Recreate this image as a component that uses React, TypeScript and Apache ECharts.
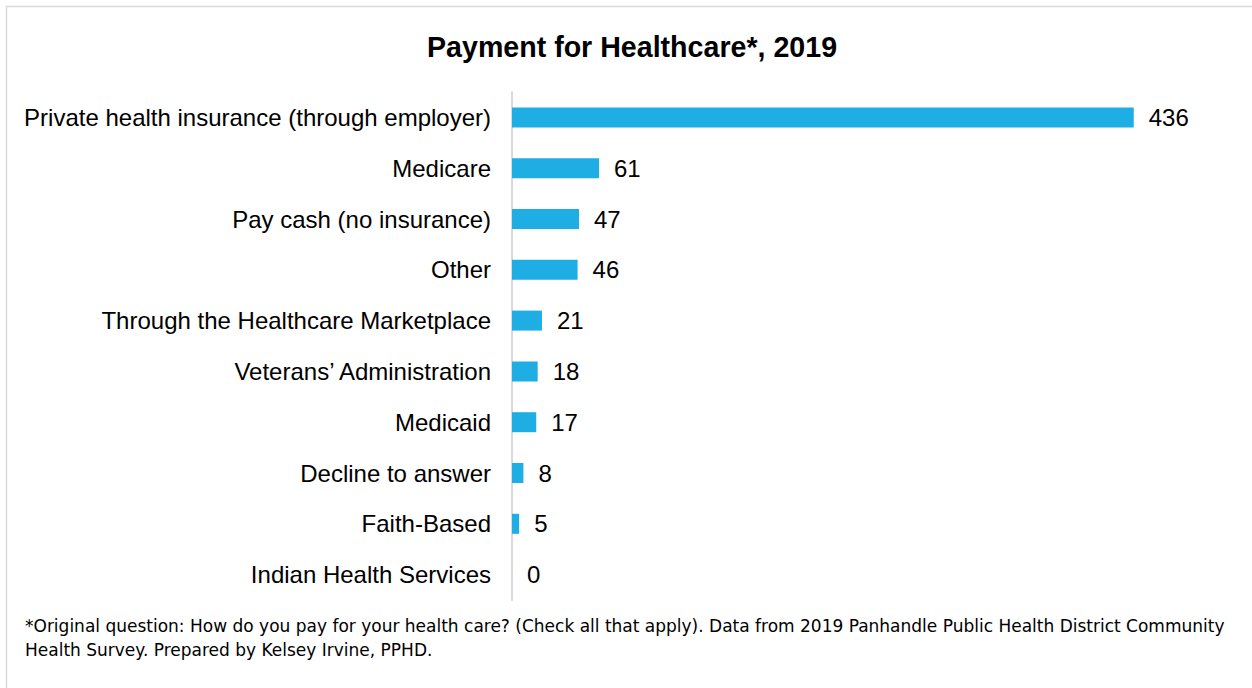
import React, { useEffect, useRef } from "react";
import * as echarts from "echarts";

const categories = [
  "Private health insurance (through employer)",
  "Medicare",
  "Pay cash (no insurance)",
  "Other",
  "Through the Healthcare Marketplace",
  "Veterans\u2019 Administration",
  "Medicaid",
  "Decline to answer",
  "Faith-Based",
  "Indian Health Services",
];
const values = [436, 61, 47, 46, 21, 18, 17, 8, 5, 0];
const titleText = "Payment for Healthcare*, 2019";
const footLine1 =
  "*Original question: How do you pay for your health care? (Check all that apply). Data from 2019 Panhandle Public Health District Community";
const footLine2 = "Health Survey. Prepared by Kelsey Irvine, PPHD.";

export default function App() {
  const ref = useRef<HTMLDivElement>(null);
  useEffect(() => {
    if (!ref.current) return;
    const chart = echarts.init(ref.current, null, { renderer: "svg" });
    chart.setOption({
      animation: false,
      backgroundColor: "#ffffff",
      title: {
        text: titleText,
        left: 422,
        top: 27,
        textStyle: {
          fontFamily: "Liberation Sans, Arial, sans-serif",
          fontSize: 28.6,
          fontWeight: "bold",
          color: "#000000",
        },
      },
      grid: { left: 512, right: 27, top: 92, height: 508 },
      xAxis: {
        type: "value",
        min: 0,
        max: 500,
        show: false,
      },
      yAxis: {
        type: "category",
        data: categories,
        inverse: true,
        axisLine: { show: true, lineStyle: { color: "#d9d9d9", width: 2 } },
        axisTick: { show: false },
        axisLabel: {
          margin: 21,
          color: "#000000",
          fontSize: 24,
          fontFamily: "Liberation Sans, Arial, sans-serif",
        },
      },
      series: [
        {
          type: "bar",
          data: values,
          barWidth: 20,
          itemStyle: { color: "#1FAEE3" },
          label: {
            show: true,
            position: "right",
            distance: 15,
            color: "#000000",
            fontSize: 24,
            fontFamily: "Liberation Sans, Arial, sans-serif",
          },
        },
      ],
      graphic: [
        {
          type: "rect",
          shape: { x: 6.5, y: 6.5, width: 1300, height: 800 },
          style: { fill: "none", stroke: "#d9d9d9", lineWidth: 1.5 },
          silent: true,
        },
        {
          type: "text",
          x: 25,
          y: 626,
          style: {
            text: footLine1,
            fontSize: 17,
            fontFamily: "DejaVu Sans, sans-serif",
            fill: "#000000",
            verticalAlign: "middle",
          },
        },
        {
          type: "text",
          x: 25,
          y: 650,
          style: {
            text: footLine2,
            fontSize: 17,
            fontFamily: "DejaVu Sans, sans-serif",
            fill: "#000000",
            verticalAlign: "middle",
          },
        },
      ],
    });
    return () => chart.dispose();
  }, []);
  return (
    <div
      ref={ref}
      style={{ position: "absolute", left: 0, top: 0, width: 1252, height: 688 }}
    />
  );
}
